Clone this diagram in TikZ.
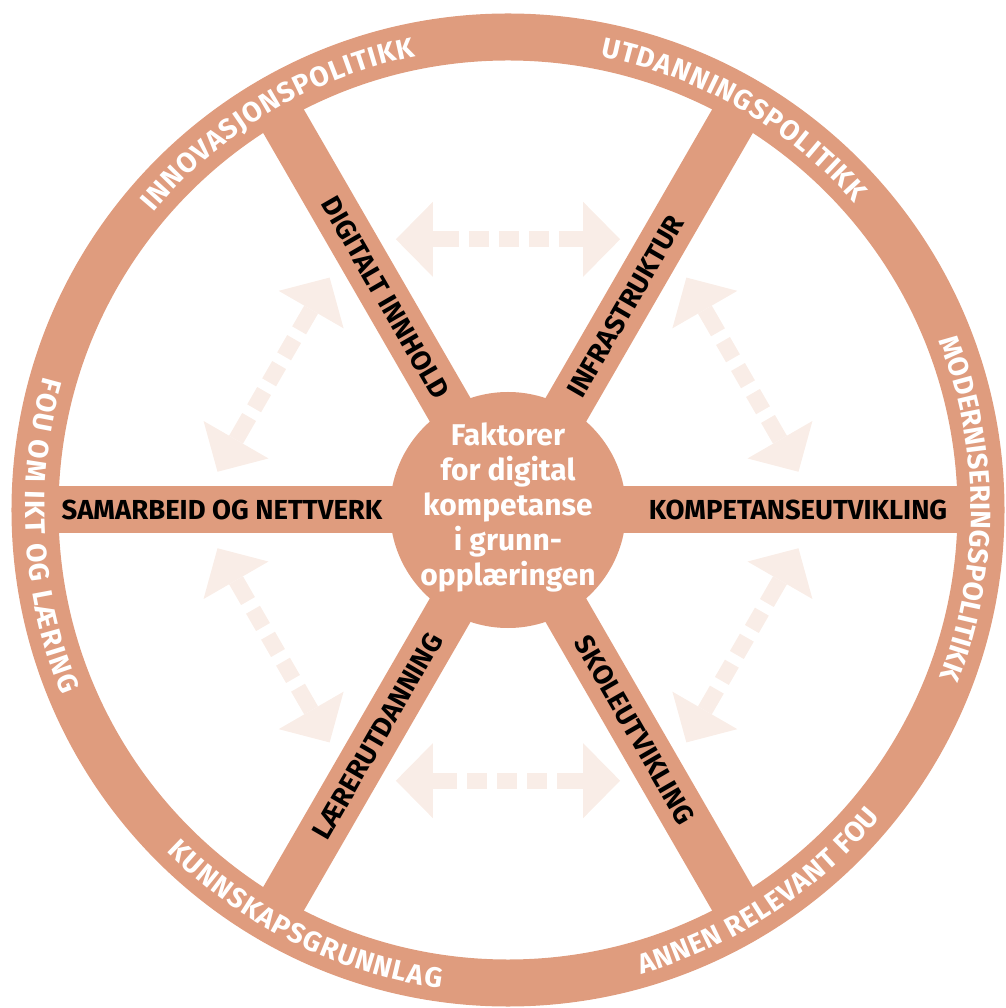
\documentclass[tikz,border=0pt]{standalone}
\usepackage{fontspec}
\setmainfont{Fira Sans}
\usepackage{xcolor}
\usetikzlibrary{arrows.meta,decorations.text}

\definecolor{wheel}{RGB}{223,156,126}
\definecolor{faint}{RGB}{249,237,231}
\newcommand\rimfont{\bfseries\fontsize{28}{30}\selectfont}

\begin{document}
\begin{tikzpicture}[x=1pt,y=1pt,
    rim/.style={draw=wheel,line width=47pt},
    spoke/.style={draw=wheel,line width=47pt},
    spokelabel/.style={font=\bfseries\fontsize{27.5}{29}\selectfont,inner sep=0pt},
    hubtext/.style={text=white,align=center,font=\bfseries\fontsize{30}{35}\selectfont},
    rimtext/.style={decorate,decoration={text along path,text align=fit to path,
        text color=white,text={|\rimfont|#1}}},
    hint/.style={draw=faint,line width=16pt,
        dash pattern=on 24pt off 10pt on 20pt off 10pt on 20pt off 10pt on 20pt off 10pt on 40pt,
        {Triangle[length=37pt,width=75pt,line width=0pt]}-{Triangle[length=37pt,width=75pt,line width=0pt]}}]
\useasboundingbox (-508,-498) rectangle (497,510);

\draw[rim] (0,0) circle (473);
\foreach \a in {0,60,...,300}
    \draw[spoke] (0,0) -- (\a:473);
\fill[wheel] (0,0) circle (118);

\node[hubtext] (hub) at (0,3) {Faktorer\\for digital\\kompetanse\\i grunn-\\opplæringen};

\node[spokelabel] (samarbeid) at (180:286) {SAMARBEID OG NETTVERK};
\node[spokelabel] (kompetanse) at (0:290) {KOMPETANSEUTVIKLING};
\node[spokelabel,rotate=-60] (innhold) at (120:245) {DIGITALT INNHOLD};
\node[spokelabel,rotate=60] (infra) at (60:235) {INFRASTRUKTUR};
\node[spokelabel,rotate=60] (laerer) at (240:261) {LÆRERUTDANNING};
\node[spokelabel,rotate=-60] (skole) at (300:254) {SKOLEUTVIKLING};

\path[rimtext=INNOVASJONSPOLITIKK] (140:463) arc[start angle=140,end angle=101.5,radius=463];
\path[rimtext=UTDANNINGSPOLITIKK] (78.5:463) arc[start angle=78.5,end angle=41.5,radius=463];
\path[rimtext=MODERNISERINGSPOLITIKK] (21.5:463) arc[start angle=21.5,end angle=-21,radius=463];
\path[rimtext=FOU OM IKT OG LÆRING] (164:483) arc[start angle=164,end angle=202.5,radius=483];
\path[rimtext=KUNNSKAPSGRUNNLAG] (225:483) arc[start angle=225,end angle=262,radius=483];
\path[rimtext=ANNEN RELEVANT FOU] (286:483) arc[start angle=286,end angle=320.5,radius=483];

\foreach \a [count=\i] in {30,90,...,330} {
    \coordinate (p\i) at (\a-22.5:293);
    \coordinate (q\i) at (\a+22.5:293);
    \draw[hint] (p\i) -- (q\i);
}
\end{tikzpicture}
\end{document}
